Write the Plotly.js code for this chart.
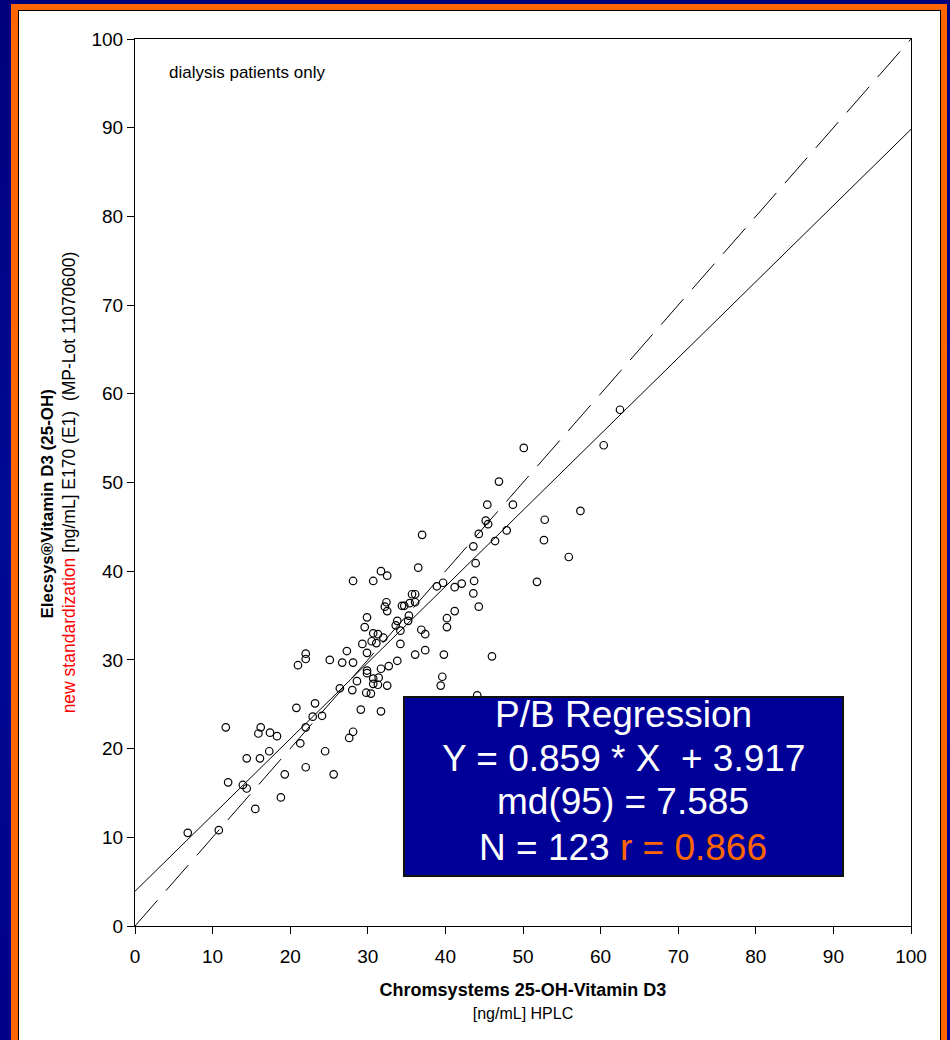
<!DOCTYPE html>
<html>
<head>
<meta charset="utf-8">
<script src="https://cdn.plot.ly/plotly-3.0.1.min.js"></script>
<style>
  html, body { margin:0; padding:0; width:950px; height:1040px; overflow:hidden; }
  body { background: linear-gradient(180deg, #00007a 0%, #000a96 50%, #000088 100%); position:relative; }
  #orange { position:absolute; left:11px; top:4px; width:936px; height:1036px; background:#ff6600; }
  #white { position:absolute; left:18px; top:10px; width:923px; height:1032px; background:#fff; border:1px solid #000; box-sizing:border-box; }
  #chart { position:absolute; left:19px; top:11px; width:920px; height:1029px; }
</style>
</head>
<body>
<div id="orange"></div>
<div id="white"></div>
<div id="chart"></div>
<script>
// HPLC (Chromsystems) values, ng/mL
const hplc = [6.8,10.8,11.7,12.0,13.9,14.4,14.4,15.5,15.9,16.2,16.1,17.3,17.4,18.3,18.8,19.3,20.8,21.0,21.3,22.0,
  22.0,22.0,22.0,22.9,23.2,24.1,24.5,25.1,25.6,26.4,26.7,27.3,27.6,28.1,28.0,28.1,28.1,28.6,29.1,29.3,
  29.6,29.8,29.9,29.9,29.9,30.4,30.5,30.7,30.7,30.7,30.7,31.1,31.3,31.4,31.3,31.7,31.7,31.7,32.0,32.4,
  32.2,32.5,32.5,32.5,32.7,33.6,33.8,33.8,34.2,34.2,34.4,34.7,35.2,35.3,35.4,35.7,36.1,36.1,36.1,36.5,
  36.9,37.0,37.4,37.4,38.9,39.4,39.6,39.7,39.8,40.2,40.2,41.2,41.2,42.1,43.6,43.6,43.7,43.9,44.1,44.3,
  44.3,45.2,45.4,45.5,46.0,46.4,46.9,47.9,48.7,50.1,51.8,52.7,52.8,55.9,57.4,60.4,62.5,29.9];
// Elecsys values, ng/mL
const elecsys = [10.5,10.8,22.4,16.2,15.9,15.5,18.9,13.2,21.7,22.4,18.9,19.7,21.8,21.4,14.5,17.1,24.6,29.4,20.6,30.7,
  30.1,17.9,22.4,23.6,25.1,23.7,19.7,30.0,17.1,26.8,29.7,31.0,21.2,21.9,26.6,38.9,29.7,27.6,24.4,31.8,
  33.7,26.3,34.8,30.8,28.8,26.2,32.1,38.9,33.0,27.9,27.3,31.9,32.9,28.0,27.2,29.0,24.2,40.0,32.5,36.5,
  36.0,35.5,39.5,27.1,29.3,33.9,34.4,29.9,33.3,31.8,36.1,36.1,34.4,35.0,36.4,37.4,37.4,36.5,30.6,40.4,
  33.4,44.1,32.9,31.1,38.3,27.1,28.1,38.7,30.6,34.7,33.7,35.5,38.2,38.6,42.8,37.5,38.9,40.9,26.0,44.2,
  36.0,45.7,47.5,45.3,30.4,43.4,50.1,44.6,47.5,53.9,38.8,43.5,45.8,41.6,46.8,54.2,58.2,28.5];

const regSlope = 0.859, regIntercept = 3.917;
const lineX = [0, 100];
const tickVals = [0,10,20,30,40,50,60,70,80,90,100];
const boxLines = ["P/B Regression", "Y = 0.859 * X \u00a0+ 3.917", "md(95) = 7.585", "N = 123 <span style='color:#ff6600'>r = 0.866</span>"];
const boxLineY = [23.8, 18.9, 14.0, 8.8];

const FONT = "Liberation Sans, Arial, sans-serif";
const NB = "\u00a0";

const traces = [
  { x: lineX, y: lineX, mode:'lines', line:{color:'#000', width:1, dash:'34px,13px'}, hoverinfo:'skip', showlegend:false },
  { x: lineX, y: lineX.map(v => regSlope*v + regIntercept), mode:'lines', line:{color:'#000', width:1}, hoverinfo:'skip', showlegend:false },
  { x: hplc, y: elecsys, mode:'markers', marker:{symbol:'circle-open', size:7.5, color:'#000', line:{width:1.2}}, showlegend:false }
];

const axisCommon = {
  range:[0,100], tickvals: tickVals, ticktext: tickVals.map(String),
  showgrid:false, zeroline:false, showline:true, linecolor:'#000', linewidth:1, mirror:true,
  ticks:'outside', ticklen:7, tickcolor:'#000', tickwidth:1,
  tickfont:{family:FONT, size:19, color:'#000'}
};

const layout = {
  width:920, height:1029,
  margin:{l:116, r:28, t:28, b:114},
  paper_bgcolor:'rgba(0,0,0,0)', plot_bgcolor:'#fff',
  font:{family:FONT, color:'#000'},
  xaxis: Object.assign({}, axisCommon, {
    ticklabelstandoff: 6,
    title:{text:"<b>Chromsystems 25-OH-Vitamin D3</b><br><span style='font-size:16px'>[ng/mL] HPLC</span>",
      font:{family:FONT, size:18, color:'#000'}, standoff:17}
  }),
  yaxis: Object.assign({}, axisCommon, {
    title:{text:"<b>Elecsys®Vitamin D3 (25-OH)" + NB.repeat(9) + "</b><br><span style='font-size:17.5px'><span style='color:#ff0000'>new standardization</span> [ng/mL] E170 (E1)  (MP-Lot 11070600)</span>",
      font:{family:FONT, size:17, color:'#000'}, standoff:11}
  }),
  shapes:[
    { type:'rect', xref:'x', yref:'y', x0:34.66, x1:91.24, y0:5.64, y1:25.82,
      fillcolor:'#000099', line:{color:'#111', width:2}, layer:'above' }
  ],
  annotations: [
    { xref:'x', yref:'y', x:4.1, y:96.2, xanchor:'left', yanchor:'middle', showarrow:false,
      text:'dialysis patients only', font:{family:FONT, size:17, color:'#000'} }
  ].concat(boxLines.map((t, i) => ({
      xref:'x', yref:'y', x:62.95, y:boxLineY[i], xanchor:'center', yanchor:'middle', showarrow:false,
      text:t, font:{family:FONT, size:37, color:'#fff'} })))
};

Plotly.newPlot('chart', traces, layout, {displayModeBar:false, staticPlot:true});
</script>
</body>
</html>
